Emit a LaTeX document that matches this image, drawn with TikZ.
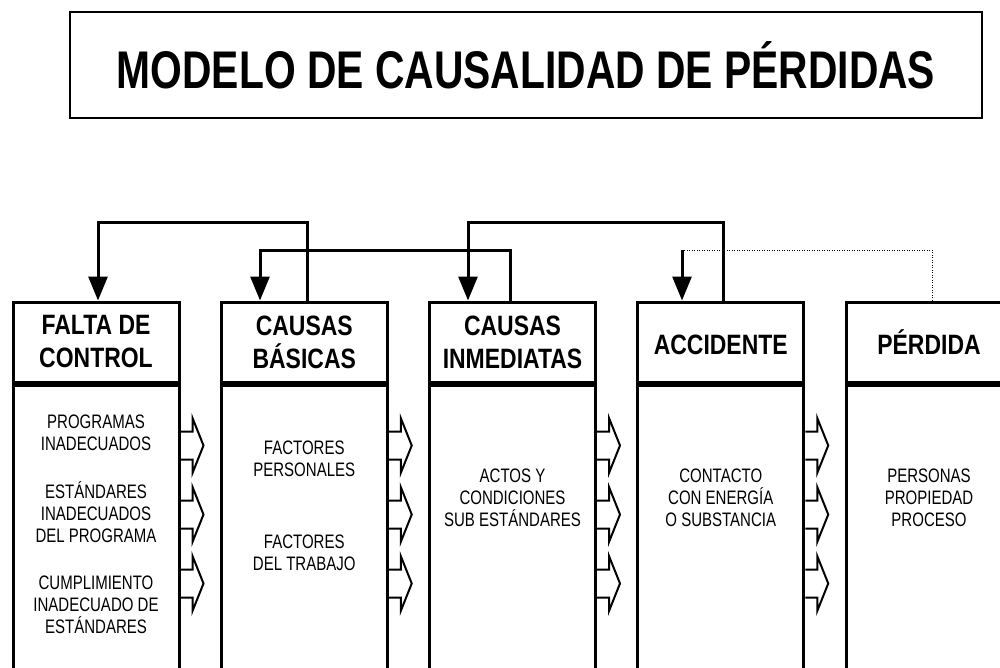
\documentclass[tikz,border=0pt]{standalone}
\usepackage{fontspec}
\setmainfont{Liberation Sans}
\newfontfamily\titlefont{Liberation Sans}[FakeStretch=0.77]
\newfontfamily\headfont{Liberation Sans}[FakeStretch=0.82]
\newfontfamily\bodyfont{Liberation Sans}[FakeStretch=0.77]
\usetikzlibrary{positioning,arrows.meta}

\begin{document}
\begin{tikzpicture}[x=1pt,y=-1pt,node distance=208.25pt,on grid,
    titlebox/.style={draw,line width=2pt,minimum width=912pt,minimum height=106pt,
      font=\titlefont\bfseries\fontsize{53}{60}\selectfont},
    header/.style={draw,line width=3pt,minimum width=166pt,minimum height=80pt,
      align=center,font=\headfont\bfseries\fontsize{28}{33}\selectfont,
      execute at begin node=\vphantom{É}},
    body/.style={draw,line width=3pt,minimum width=166pt,minimum height=330pt,anchor=north},
    txt/.style={align=center,inner sep=0pt,font=\bodyfont\fontsize{19.5}{22}\selectfont},
    link/.style={line width=3pt,line join=miter,-{Triangle[width=19pt,length=24pt]}},
    loss/.style={line width=1pt,dash pattern=on 1pt off 1.5pt},
    blockarrow/.style={line width=2pt,line join=miter}]
   \clip (0,0) rectangle (1000,668);
   \useasboundingbox (0,0) rectangle (1000,668);
   \coordinate (high) at (0,223);
   \coordinate (low) at (0,250);

   \node[titlebox] (title) at (526,65) {MODELO DE CAUSALIDAD DE PÉRDIDAS};

   % headers
   \node[header] (hf) at (96,342) {FALTA DE\\CONTROL};
   \node[header] (hb) [right=of hf] {CAUSAS\\BÁSICAS};
   \node[header] (hi) [right=of hb] {CAUSAS\\INMEDIATAS};
   \node[header] (ha) [right=of hi] {ACCIDENTE};
   \node[header] (hp) [right=of ha] {PÉRDIDA};

   % bodies
   \node[body] (bf) at (hf.south) {};
   \node[body] (bb) at (hb.south) {};
   \node[body] (bi) at (hi.south) {};
   \node[body] (ba) at (ha.south) {};
   \node[body] (bp) at (hp.south) {};

   \node[txt] (prog) at (bf.north |- 0,432.5) {PROGRAMAS\\INADECUADOS};
   \node[txt] (estd) at (bf.north |- 0,512) {ESTÁNDARES\\INADECUADOS\\DEL PROGRAMA};
   \node[txt] (cump) at (bf.north |- 0,604.5) {CUMPLIMIENTO\\INADECUADO DE\\ESTÁNDARES};
   \node[txt] (pers) at (bb.north |- 0,459) {FACTORES\\PERSONALES};
   \node[txt] (trab) at (bb.north |- 0,552.5) {FACTORES\\DEL TRABAJO};
   \node[txt] (actos) at (bi.north |- 0,498) {ACTOS Y\\CONDICIONES\\SUB ESTÁNDARES};
   \node[txt] (cont) at (ba.north |- 0,498) {CONTACTO\\CON ENERGÍA\\O SUBSTANCIA};
   \node[txt] (prop) at (bp.north |- 0,498) {PERSONAS\\PROPIEDAD\\PROCESO};

   % block arrows between columns
   \foreach \b in {bf,bb,bi,ba}
     \foreach \d in {62,131,200}
       \draw[blockarrow] ([yshift=-\d pt]\b.north east) ++(0,-14) -- ++(12,0) -- ++(0,-13.5)
         -- ++(11,27.5) -- ++(-11,27.5) -- ++(0,-13.5) -- ++(-12,0);

   % feedback links
   \draw[link] ([xshift=2.75pt]hb.north) |- ([xshift=2pt]hf.north |- high) -- ([xshift=2pt]hf.north);
   \draw[link] ([xshift=-2.5pt]hi.north) |- ([xshift=-44.25pt]hb.north |- low) -- ([xshift=-44.25pt]hb.north);
   \draw[link] ([xshift=2.25pt]ha.north) |- ([xshift=-44.5pt]hi.north |- high) -- ([xshift=-44.5pt]hi.north);
   \draw[loss] ([xshift=3pt]hp.north) |- ([xshift=-38.75pt]ha.north |- low);
   \draw[link] ([xshift=-38.75pt]ha.north |- low) -- ([xshift=-38.75pt]ha.north);
\end{tikzpicture}
\end{document}
